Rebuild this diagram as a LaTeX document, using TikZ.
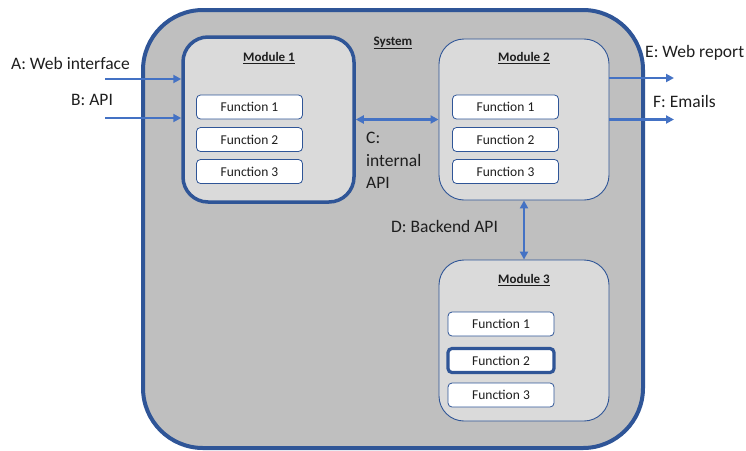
\documentclass[tikz,border=0pt]{standalone}
\usepackage{fontspec}
\setmainfont{Carlito}
\usetikzlibrary{arrows.meta}
\definecolor{frameblue}{HTML}{2F5597}
\definecolor{linkblue}{HTML}{4472C4}
\definecolor{sysgray}{HTML}{BFBFBF}
\definecolor{modgray}{HTML}{DADADA}
\definecolor{inkgray}{HTML}{1E1E1E}
\tikzset{
  sysbox/.style={draw=frameblue, line width=4pt, fill=sysgray, rounded corners=60pt,
    minimum width=500pt, minimum height=438pt, inner sep=0pt},
  modbox/.style={draw=frameblue, line width=0.9pt, fill=modgray, rounded corners=25pt,
    minimum width=170pt, minimum height=161pt, inner sep=0pt},
  modthick/.style={modbox, line width=3.5pt},
  fnbox/.style={draw=frameblue, line width=0.8pt, fill=white, rounded corners=4pt,
    minimum width=106pt, minimum height=24pt, inner sep=0pt, font=\fontsize{13.5}{15}\selectfont, text=inkgray},
  fnthick/.style={fnbox, line width=3.2pt},
  title/.style={font=\bfseries\fontsize{13}{15}\selectfont, text=inkgray, inner sep=0pt},
  lbl/.style={font=\fontsize{17.5}{22.5}\selectfont, text=inkgray, inner sep=0pt},
  arr/.style={draw=linkblue, line width=2.4pt, -{Triangle[length=8pt,width=8pt]}},
  arrboth/.style={draw=linkblue, line width=2.4pt, {Triangle[length=8pt,width=8pt]}-{Triangle[length=8pt,width=8pt]}},
}
\begin{document}
\begin{tikzpicture}[x=1pt, y=-1pt]
\useasboundingbox (0,0) rectangle (746,450);

% outer system boundary
\node[sysbox] (sys) at (393,229) {};
\node[title] (systitle) at (393,43) {\underline{System}};

% modules
\node[modthick, minimum width=171pt, minimum height=165pt] (m1) at (268.5,119.5) {};
\node[title] (m1title) at (269,58) {\underline{Module 1}};
\node[fnbox] (m1f1) at (249.5,107) {Function 1};
\node[fnbox] (m1f2) at (249.5,139.5) {Function 2};
\node[fnbox] (m1f3) at (249.5,171.5) {Function 3};

\node[modbox] (m2) at (524,119.5) {};
\node[title] (m2title) at (524,58) {\underline{Module 2}};
\node[fnbox] (m2f1) at (505.5,107) {Function 1};
\node[fnbox] (m2f2) at (505.5,139.5) {Function 2};
\node[fnbox] (m2f3) at (505.5,171.5) {Function 3};

\node[modbox] (m3) at (524,340.5) {};
\node[title] (m3title) at (524,280) {\underline{Module 3}};
\node[fnbox] (m3f1) at (501,324) {Function 1};
\node[fnthick] (m3f2) at (501,360.5) {Function 2};
\node[fnbox] (m3f3) at (501,395) {Function 3};

% external inputs
\coordinate (ain) at (105,79);
\coordinate (bin) at (105,118);
\draw[arr] (ain) -- (ain -| m1.west);
\draw[arr] (bin) -- (bin -| m1.west);
\node[lbl, anchor=west] (alab) at (11,63) {A: Web interface};
\node[lbl, anchor=west] (blab) at (71,100) {B: API};

% internal links
\draw[arrboth] (m1.east) -- (m2.west);
\node[lbl, anchor=north west, align=left] (clab) at (366,132) {C:\\internal\\API};
\draw[arrboth] (m2.south) -- (m3.north);
\node[lbl, anchor=west] (dlab) at (391,226) {D: Backend API};

% outputs
\coordinate (eout) at (674,78);
\coordinate (fout) at (674,119.5);
\draw[arr] (eout -| m2.east) -- (eout);
\draw[arr] (m2.east) -- (fout);
\node[lbl, anchor=west] (elab) at (645,53) {E: Web report};
\node[lbl, anchor=west] (flab) at (653,101) {F: Emails};
\end{tikzpicture}
\end{document}
